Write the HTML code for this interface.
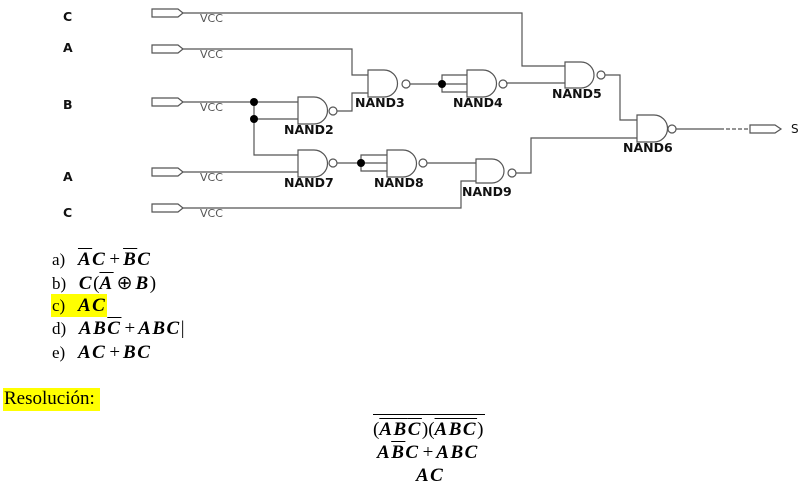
<!DOCTYPE html>
<html><head><meta charset="utf-8"><style>
body{margin:0;width:803px;height:490px;background:#fff;overflow:hidden;position:relative}
svg{position:absolute;left:0;top:0}
.t{position:absolute;font-family:"Liberation Serif",serif;font-size:17px;color:#000;white-space:nowrap}
.m{font-weight:bold;font-style:italic;font-size:19px;letter-spacing:1.5px}
.p{font-size:19px;padding:0 3px}
.ov{text-decoration:overline}
</style></head><body>
<svg width="803" height="490" font-family="DejaVu Sans, Liberation Sans, sans-serif">
<g fill="none" stroke="#555" stroke-width="1.2">
<path d="M152 9H178L183 13L178 17H152Z"/>
<path d="M152 45H178L183 49L178 53H152Z"/>
<path d="M152 98H178L183 102L178 106H152Z"/>
<path d="M152 168H178L183 172L178 176H152Z"/>
<path d="M152 204H178L183 208L178 212H152Z"/>
<path d="M750 125H775L781 129L775 133H750Z"/>
<path d="M183 13H522V66H565"/>
<path d="M183 49H352V75H368"/>
<path d="M183 102H298M254 102V155H298M254 119H298"/>
<path d="M337 111H352V93H368"/>
<path d="M410 84H467M442 84V75H467M442 84V92H467"/>
<path d="M507 84V83H565"/>
<path d="M183 172H298"/>
<path d="M337 163H387M361 163V155H387M361 163V171H387"/>
<path d="M427 163H476"/>
<path d="M183 208H461V181H476"/>
<path d="M516 173H531V138H637"/>
<path d="M605 75H620V120H637"/>
<path d="M676 129H720"/>
<path d="M720 129H750" stroke-dasharray="4,2"/>
<path d="M368 70H384A13.5 13.5 0 0 1 384 97H368Z"/>
<path d="M298 97H314A13.5 13.5 0 0 1 314 124H298Z"/>
<path d="M467 70H483A13.5 13.5 0 0 1 483 97H467Z"/>
<path d="M565 62H581A13 13 0 0 1 581 88H565Z"/>
<path d="M637 115H654A13.5 13.5 0 0 1 654 142H637Z"/>
<path d="M298 150H314A13.5 13.5 0 0 1 314 177H298Z"/>
<path d="M387 150H403A13.5 13.5 0 0 1 403 177H387Z"/>
<path d="M476 159H492A12 12 0 0 1 492 183H476Z"/>
<circle cx="406" cy="84" r="4"/><circle cx="333" cy="111" r="4"/><circle cx="503" cy="84" r="4"/>
<circle cx="601" cy="75" r="4"/><circle cx="672" cy="129" r="4"/><circle cx="333" cy="163" r="4"/>
<circle cx="423" cy="163" r="4"/><circle cx="512" cy="173" r="4"/>
</g>
<g fill="#000"><circle cx="254" cy="102" r="4"/><circle cx="254" cy="119" r="4"/><circle cx="442" cy="84" r="4"/><circle cx="361" cy="163" r="4"/></g>
<g font-size="11" fill="#555">
<text x="200" y="22">VCC</text><text x="200" y="58">VCC</text><text x="200" y="111">VCC</text><text x="200" y="181">VCC</text><text x="200" y="217">VCC</text>
</g>
<g font-size="12.5" font-weight="bold" fill="#111">
<text x="63" y="21">C</text><text x="63" y="52">A</text><text x="63" y="109">B</text><text x="63" y="181">A</text><text x="63" y="217">C</text>
<text x="355" y="107">NAND3</text><text x="284" y="134">NAND2</text><text x="453" y="107">NAND4</text>
<text x="552" y="98">NAND5</text><text x="623" y="152">NAND6</text><text x="284" y="187">NAND7</text>
<text x="374" y="187">NAND8</text><text x="462" y="196">NAND9</text>
</g>
<text x="791" y="133" font-size="12" fill="#111">S</text>
</svg>
<div style="position:absolute;left:51px;top:294px;width:56px;height:23px;background:#ff0"></div>
<div style="position:absolute;left:3px;top:388px;width:97px;height:23px;background:#ff0"></div>
<div class="t" style="left:52px;top:249px">a)&nbsp;&nbsp; <span class="m"><span class="ov">A</span>C</span><span class="p">+</span><span class="m"><span class="ov">B</span>C</span></div>
<div class="t" style="left:52px;top:272px">b)&nbsp;&nbsp; <span class="m">C</span><span class="p" style="padding:0">(</span><span class="m ov">A</span><span class="p">⊕</span><span class="m">B</span><span class="p" style="padding:0">)</span></div>
<div class="t" style="left:52px;top:295px">c)&nbsp;&nbsp; <span class="m">AC</span></div>
<div class="t" style="left:52px;top:318px">d)&nbsp;&nbsp; <span class="m">AB<span class="ov">C</span></span><span class="p">+</span><span class="m">ABC</span><span style="font-size:19px">|</span></div>
<div class="t" style="left:52px;top:342px">e)&nbsp;&nbsp; <span class="m">AC</span><span class="p">+</span><span class="m">BC</span></div>
<div class="t" style="left:4px;top:388px;font-size:19px">Resolución:</div>
<div style="position:absolute;left:373px;top:414px;width:112px;height:1px;background:#000"></div>
<div class="t" style="left:373px;top:419px"><span class="p" style="padding:0">(</span><span class="m ov">A<span>B</span>C</span><span class="p" style="padding:0">)(</span><span class="m ov">ABC</span><span class="p" style="padding:0">)</span></div>
<div class="t" style="left:377px;top:442px"><span class="m">A<span class="ov">B</span>C</span><span class="p">+</span><span class="m">ABC</span></div>
<div class="t" style="left:416px;top:465px"><span class="m">AC</span></div>
</body></html>
